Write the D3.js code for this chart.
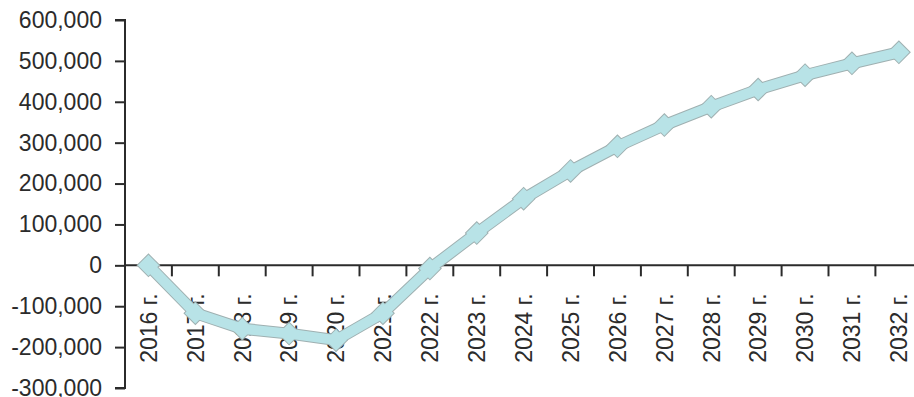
<!DOCTYPE html>
<html><head><meta charset="utf-8">
<script src="https://cdn.jsdelivr.net/npm/d3@7"></script>
<style>html,body{margin:0;padding:0;background:#fff;overflow:hidden}</style>
</head><body>
<svg id="c" width="914" height="397"></svg>
<script>
const categories = ["2016 г.","2017 г.","2018 г.","2019 г.","2020 г.","2021 г.","2022 г.","2023 г.","2024 г.","2025 г.","2026 г.","2027 г.","2028 г.","2029 г.","2030 г.","2031 г.","2032 г."];
const values = [0,-117000,-155000,-167000,-183000,-117000,-8000,79000,163000,231000,291000,343000,388000,430000,465000,494000,521000];
const yTicks = [600000,500000,400000,300000,200000,100000,0,-100000,-200000,-300000];

(function(){
const svg = d3.select("#c");
const mLeft = 125, mTop = 20, mBottom = 388;
const x = d3.scaleBand().domain(categories).range([mLeft, mLeft + 46.9*17]).paddingInner(0).paddingOuter(0);
const y = d3.scaleLinear().domain([-300000, 600000]).range([mBottom, mTop]);
const font = "'Liberation Sans', Arial, sans-serif";
const ink = "#2b2b2b";

// y axis
const yAxis = d3.axisLeft(y).tickValues(yTicks).tickSize(10).tickPadding(13)
  .tickFormat(d => d3.format(",")(d).replace("−","-"));
const gy = svg.append("g").attr("transform", `translate(${mLeft},0)`).call(yAxis);
gy.select(".domain").attr("stroke", ink).attr("stroke-width", 2).attr("d", `M-10,${mTop}H0V${mBottom}H-10`);
gy.selectAll(".tick line").attr("stroke", ink).attr("stroke-width", 2);
gy.selectAll("text").attr("font-family", font).attr("font-size", 23).attr("fill", ink);

// x axis at zero
const xAxis = d3.axisBottom(x).tickSize(0).tickPadding(0);
const gx = svg.append("g").attr("transform", `translate(0,${y(0)})`).call(xAxis);
gx.select(".domain").attr("stroke", ink).attr("stroke-width", 2).attr("d", `M${mLeft},0H914`);
gx.selectAll(".tick line").remove();
const bounds = categories.slice(1).map(c => x(c));
gx.selectAll("line.b").data(bounds).enter().append("line").attr("class","b")
  .attr("x1", d => d).attr("x2", d => d).attr("y1", 0).attr("y2", 11)
  .attr("stroke", ink).attr("stroke-width", 2);
gx.selectAll(".tick text")
  .attr("font-family", font).attr("font-size", 23).attr("fill", ink)
  .attr("text-anchor", "end").attr("transform", "rotate(-90)")
  .attr("x", -28).attr("y", 0).attr("dy", "0.36em");

// series
const cx = d => x(d) + x.bandwidth()/2;
const pts = categories.map((c,i) => [cx(c), y(values[i])]);
const line = d3.line();
const diamond = (p, r) => `M${p[0]},${p[1]-r}L${p[0]+r},${p[1]}L${p[0]},${p[1]+r}L${p[0]-r},${p[1]}Z`;
const outline = "#9fb0b1", fill = "#b8e3e7";
const s = svg.append("g");
s.append("path").attr("d", line(pts)).attr("fill","none").attr("stroke", outline).attr("stroke-width", 12).attr("stroke-linejoin","round");
s.selectAll("path.o").data(pts).enter().append("path").attr("class","o").attr("d", p => diamond(p, 12)).attr("fill", outline);
s.append("path").attr("d", line(pts)).attr("fill","none").attr("stroke", fill).attr("stroke-width", 10).attr("stroke-linejoin","round");
s.selectAll("path.f").data(pts).enter().append("path").attr("class","f").attr("d", p => diamond(p, 10.6)).attr("fill", fill);
})();
</script>
</body></html>
